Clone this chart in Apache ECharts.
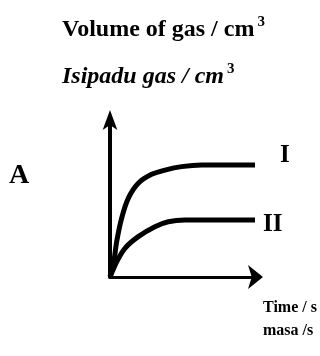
<!DOCTYPE html>
<html>
<head>
<meta charset="utf-8">
<script src="https://cdn.jsdelivr.net/npm/echarts@6/dist/echarts.min.js"></script>
<style>
  html, body { margin: 0; padding: 0; background: #fff; }
  #chart { width: 320px; height: 356px; }
</style>
</head>
<body>
<div id="chart"></div>
<script>
// Gas volume against time for two reactions (I and II)
const timeI = [0, 0.23, 0.46, 0.8, 1.26, 1.95, 2.87, 3.79, 4.94, 6.32, 10];
const volumeI = [0, 0.76, 2.25, 3.74, 5.01, 5.97, 6.54, 6.81, 7.03, 7.13, 7.13];
const timeII = [0, 0.46, 1.03, 1.95, 3.1, 4.02, 5.17, 6.32, 10];
const volumeII = [0, 0.97, 1.83, 2.57, 3.2, 3.52, 3.63, 3.63, 3.63];
const seriesNames = ['I', 'II'];
const yTitleEn = 'Volume of gas / cm';
const yTitleMs = 'Isipadu gas / cm';
const xTitleEn = 'Time / s';
const xTitleMs = 'masa /s';
const optionLabel = 'A';

const serif = '"Liberation Serif", "DejaVu Serif", serif';
const pairs = (xs, ys) => xs.map((x, i) => [x, ys[i]]);

const chart = echarts.init(document.getElementById('chart'), null, { renderer: 'canvas' });
chart.setOption({
  backgroundColor: '#ffffff',
  animation: false,
  title: [
    {
      left: 57, top: 10,
      text: '{a|' + yTitleEn + '}{s|3}',
      textStyle: {
        rich: {
          a: { fontFamily: serif, fontWeight: 'bold', fontSize: 24, color: '#000' },
          s: { fontFamily: serif, fontWeight: 'bold', fontSize: 15, color: '#000', padding: [0, 0, 14, 3] }
        }
      }
    },
    {
      left: 57, top: 57,
      text: '{a|' + yTitleMs + '}{s|3}',
      textStyle: {
        rich: {
          a: { fontFamily: serif, fontWeight: 'bold', fontStyle: 'italic', fontSize: 24, color: '#000' },
          s: { fontFamily: serif, fontWeight: 'bold', fontSize: 15, color: '#000', padding: [0, 0, 14, 3] }
        }
      }
    }
  ],
  graphic: [
    { type: 'text', left: 9, top: 162, style: { text: optionLabel, font: 'bold 28px ' + serif, fill: '#000' } },
    { type: 'text', left: 263, top: 300, style: { text: xTitleEn, font: 'bold 16px ' + serif, fill: '#000' } },
    { type: 'text', left: 263, top: 323, style: { text: xTitleMs, font: 'bold 16px ' + serif, fill: '#000' } }
  ],
  grid: { left: 110, right: 65, top: 120, bottom: 79 },
  xAxis: {
    type: 'value', min: 0, max: 10,
    axisLine: { show: true, lineStyle: { color: '#000', width: 3 }, symbol: ['none', 'arrow'], symbolSize: [18, 15], symbolOffset: [0, 8] },
    axisTick: { show: false }, axisLabel: { show: false }, splitLine: { show: false }
  },
  yAxis: {
    type: 'value', min: 0, max: 10,
    axisLine: { show: true, lineStyle: { color: '#000', width: 4 }, symbol: ['none', 'arrow'], symbolSize: [11, 20], symbolOffset: [0, 10] },
    axisTick: { show: false }, axisLabel: { show: false }, splitLine: { show: false }
  },
  series: [
    {
      name: seriesNames[0], type: 'line', data: pairs(timeI, volumeI),
      smooth: 0.25, showSymbol: false,
      lineStyle: { color: '#000', width: 5, join: 'round', cap: 'butt' },
      endLabel: { show: true, formatter: seriesNames[0], offset: [17, -10], fontFamily: serif, fontWeight: 'bold', fontSize: 25, color: '#000' }
    },
    {
      name: seriesNames[1], type: 'line', data: pairs(timeII, volumeII),
      smooth: 0.25, showSymbol: false,
      lineStyle: { color: '#000', width: 5, join: 'round', cap: 'butt' },
      endLabel: { show: true, formatter: seriesNames[1], offset: [0, 5], fontFamily: serif, fontWeight: 'bold', fontSize: 25, color: '#000' }
    }
  ]
});
</script>
</body>
</html>
